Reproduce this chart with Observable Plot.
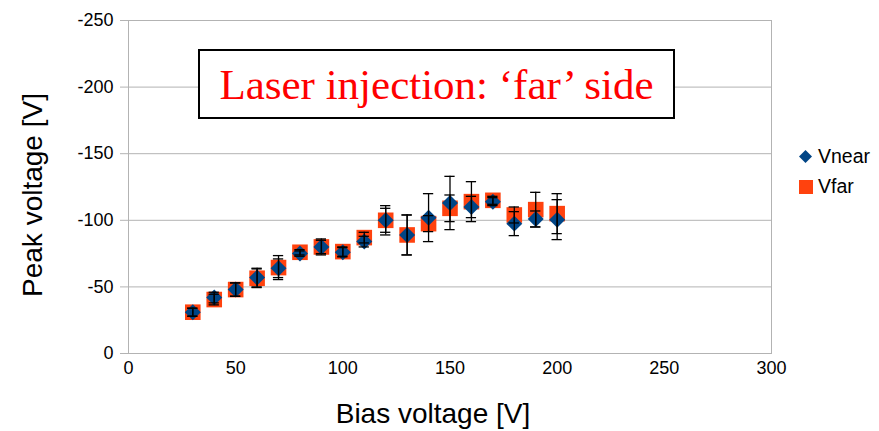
<!DOCTYPE html>
<html>
<head>
<meta charset="utf-8">
<script src="https://cdn.jsdelivr.net/npm/d3@7"></script>
<script src="https://cdn.jsdelivr.net/npm/@observablehq/plot@0.6"></script>
<style>
  html, body { margin: 0; padding: 0; background: #fff; }
  #wrap { position: relative; width: 879px; height: 431px; font-family: "Liberation Sans", Arial, sans-serif; }
  #titlebox { position: absolute; left: 198px; top: 49px; width: 473px; height: 66px; border: 2px solid #000; background: #fff;
    display: flex; align-items: center; justify-content: center; line-height: 1;
    font-family: "Liberation Serif", "Times New Roman", serif; font-size: 43px; color: #ff0000; white-space: nowrap; }
  #legend { position: absolute; left: 797px; top: 141px; font-size: 19.5px; color: #000; }
  .li { display: flex; align-items: center; height: 30px; }
  .li svg { margin-right: 4px; }
</style>
</head>
<body>
<div id="wrap">
  <div id="chart"></div>
  <div id="titlebox">Laser injection: ‘far’ side</div>
  <div id="legend">
    <div class="li"><svg width="17" height="17"><path d="M8.5,2 L15,8.5 L8.5,15 L2,8.5Z" fill="#004586"/></svg>Vnear</div>
    <div class="li"><svg width="17" height="17"><rect x="2" y="2" width="14" height="14" fill="#ff420e"/></svg>Vfar</div>
  </div>
</div>
<script>
const bias  = [30, 40, 50, 60, 70, 80, 90, 100, 110, 120, 130, 140, 150, 160, 170, 180, 190, 200];
const vnear = [-31, -42, -48, -57, -64, -75, -80, -76, -84, -100, -89, -102, -113, -110, -114, -97.5, -101, -100.5];
const vfar  = [-31, -40.5, -48, -56.5, -64.5, -76, -80, -76.5, -87, -100, -89, -97.5, -109, -114, -115, -104, -108, -105];
const nearErr = [3, 4, 5, 7, 7, 2, 5, 3.5, 4, 11, 15, 18, 20, 8, 3, 9, 6, 15];
const farErr  = [3, 4, 5, 7, 9, 2, 6, 3.5, 4, 9, 15, 6, 10, 15, 3, 6, 13, 15];
const xTicks = [0, 50, 100, 150, 200, 250, 300];
const yTicks = [0, -50, -100, -150, -200, -250];
const seriesNames = ["Vnear", "Vfar"];

const near = bias.map((b, i) => ({x: b, y: vnear[i], e: nearErr[i], s: seriesNames[0]}));
const far  = bias.map((b, i) => ({x: b, y: vfar[i],  e: farErr[i],  s: seriesNames[1]}));
const all = near.concat(far);
const capHalf = 2.4;

const chart = Plot.plot({
  width: 879,
  height: 431,
  marginLeft: 128,
  marginRight: 108,
  marginTop: 20,
  marginBottom: 78,
  style: {fontFamily: '"Liberation Sans", Arial, sans-serif', color: "#000", background: "#fff"},
  x: {domain: [0, 300], ticks: xTicks},
  y: {domain: [0, -250], ticks: yTicks},
  marks: [
    Plot.gridY(yTicks, {stroke: "#b3b3b3", strokeOpacity: 1, strokeWidth: 1}),
    Plot.frame({stroke: "#b3b3b3", strokeWidth: 1}),
    Plot.axisY(yTicks, {tickFormat: d => String(d), tickSize: 8, tickPadding: 7, fontSize: 18, stroke: "#b3b3b3", fill: "#000", label: null}),
    Plot.axisX(xTicks, {tickFormat: d => String(d), tickSize: 0, tickPadding: 8, fontSize: 18, fill: "#000", label: null}),
    Plot.dot(far, {x: "x", y: "y", symbol: "square", r: 8.8, fill: "#ff420e", stroke: null}),
    Plot.dot(near, {x: "x", y: "y", symbol: "diamond2", r: 7.2, fill: "#004586", stroke: null}),
    Plot.ruleX(all, {x: "x", y1: d => d.y - d.e, y2: d => d.y + d.e, stroke: "#000", strokeWidth: 1.3}),
    Plot.ruleY(all, {y: d => d.y - d.e, x1: d => d.x - capHalf, x2: d => d.x + capHalf, stroke: "#000", strokeWidth: 1.3}),
    Plot.ruleY(all, {y: d => d.y + d.e, x1: d => d.x - capHalf, x2: d => d.x + capHalf, stroke: "#000", strokeWidth: 1.3}),
    Plot.text(["Peak voltage [V]"], {frameAnchor: "left", textAnchor: "middle", lineAnchor: "middle", rotate: -90, dx: -95, dy: 8, fontSize: 28, fill: "#000", text: d => d}),
    Plot.text(["Bias voltage [V]"], {frameAnchor: "bottom", textAnchor: "middle", lineAnchor: "middle", dx: -17, dy: 61, fontSize: 28, fill: "#000", text: d => d})
  ]
});
document.getElementById("chart").appendChild(chart);
</script>
</body>
</html>
